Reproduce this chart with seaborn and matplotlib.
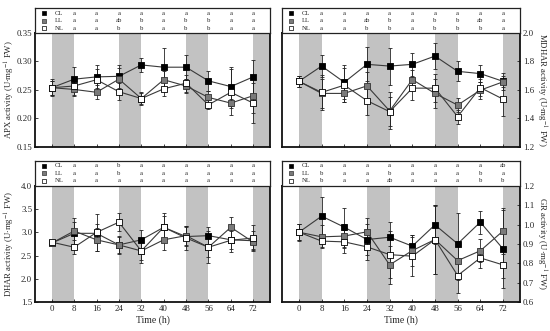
import numpy as np
import pandas as pd
import matplotlib
matplotlib.use("Agg")
import matplotlib.pyplot as plt
import seaborn as sns

sns.set_theme(style="white")
plt.rcParams['font.family'] = ['Liberation Serif', 'DejaVu Serif']
plt.rcParams['mathtext.fontset'] = 'stix'

time = [0, 8, 16, 24, 32, 40, 48, 56, 64, 72]
treatments = ["CL", "LL", "NL"]

# APX
apx_cl = [0.254, 0.269, 0.273, 0.274, 0.294, 0.290, 0.290, 0.266, 0.256, 0.273]
apx_ll = [0.254, 0.251, 0.246, 0.269, 0.235, 0.268, 0.257, 0.237, 0.227, 0.240]
apx_nl = [0.254, 0.257, 0.268, 0.247, 0.235, 0.252, 0.262, 0.224, 0.246, 0.227]
apx_cl_err = [0.015, 0.021, 0.020, 0.020, 0.012, 0.034, 0.021, 0.018, 0.034, 0.030]
apx_ll_err = [0.012, 0.012, 0.012, 0.020, 0.010, 0.015, 0.012, 0.012, 0.008, 0.030]
apx_nl_err = [0.012, 0.015, 0.018, 0.015, 0.012, 0.012, 0.015, 0.008, 0.040, 0.035]

# MDHAR
mdhar_cl = [1.661, 1.768, 1.654, 1.780, 1.768, 1.780, 1.838, 1.731, 1.715, 1.661]
mdhar_ll = [1.661, 1.576, 1.576, 1.629, 1.453, 1.673, 1.576, 1.494, 1.599, 1.657]
mdhar_nl = [1.661, 1.583, 1.634, 1.525, 1.448, 1.613, 1.613, 1.413, 1.617, 1.536]
mdhar_cl_err = [0.04, 0.08, 0.12, 0.12, 0.13, 0.08, 0.09, 0.07, 0.06, 0.04]
mdhar_ll_err = [0.04, 0.10, 0.06, 0.10, 0.13, 0.07, 0.10, 0.05, 0.06, 0.06]
mdhar_nl_err = [0.04, 0.12, 0.12, 0.10, 0.10, 0.08, 0.10, 0.05, 0.06, 0.12]

# DHAR
dhar_cl = [2.77, 2.98, 2.98, 2.73, 2.84, 3.11, 2.91, 2.93, 2.84, 2.82]
dhar_ll = [2.77, 3.03, 2.84, 2.73, 2.60, 2.84, 2.93, 2.68, 3.11, 2.79]
dhar_nl = [2.79, 2.68, 3.00, 3.22, 2.60, 3.11, 2.88, 2.68, 2.83, 2.88]
dhar_cl_err = [0.05, 0.25, 0.20, 0.20, 0.22, 0.25, 0.20, 0.18, 0.20, 0.20]
dhar_ll_err = [0.05, 0.28, 0.25, 0.18, 0.20, 0.22, 0.20, 0.20, 0.22, 0.15]
dhar_nl_err = [0.05, 0.15, 0.40, 0.20, 0.25, 0.30, 0.25, 0.35, 0.25, 0.28]

# GR
gr_cl = [0.961, 1.044, 0.987, 0.923, 0.935, 0.889, 0.999, 0.901, 1.013, 0.875]
gr_ll = [0.961, 0.937, 0.941, 0.963, 0.792, 0.866, 0.923, 0.814, 0.865, 0.967]
gr_nl = [0.961, 0.915, 0.911, 0.885, 0.845, 0.837, 0.923, 0.737, 0.828, 0.792]
gr_cl_err = [0.045, 0.10, 0.10, 0.08, 0.08, 0.06, 0.10, 0.16, 0.06, 0.20]
gr_ll_err = [0.04, 0.06, 0.06, 0.07, 0.10, 0.08, 0.18, 0.10, 0.06, 0.12]
gr_nl_err = [0.04, 0.03, 0.06, 0.07, 0.12, 0.10, 0.18, 0.09, 0.05, 0.07]

letter_times = [8, 16, 24, 32, 40, 48, 56, 64, 72]
apx_letters = [list("aaaaaaaaa"), ["a", "a", "ab", "b", "a", "b", "b", "a", "a"],
               ["a", "a", "b", "b", "a", "b", "b", "a", "a"]]
mdhar_letters = [list("aaaaaaaaa"), ["a", "a", "ab", "b", "a", "b", "b", "ab", "a"],
                 ["a", "a", "b", "b", "a", "b", "b", "b", "a"]]
dhar_letters = [["a", "a", "b", "a", "a", "a", "a", "a", "a"],
                ["a", "a", "b", "a", "a", "a", "a", "a", "a"],
                list("aaaaaaaaa")]
gr_letters = [["a", "a", "a", "a", "a", "a", "a", "a", "ab"],
              ["b", "a", "a", "b", "a", "a", "a", "b", "a"],
              ["b", "a", "a", "ab", "a", "a", "a", "b", "b"]]

panels = [
    dict(name="APX", vals=[apx_cl, apx_ll, apx_nl], errs=[apx_cl_err, apx_ll_err, apx_nl_err],
         letters=apx_letters, ylim=(0.15, 0.35), yticks=[0.15, 0.20, 0.25, 0.30, 0.35], fmt="%.2f",
         side="left", bottom=False),
    dict(name="MDHAR", vals=[mdhar_cl, mdhar_ll, mdhar_nl], errs=[mdhar_cl_err, mdhar_ll_err, mdhar_nl_err],
         letters=mdhar_letters, ylim=(1.2, 2.0), yticks=[1.2, 1.4, 1.6, 1.8, 2.0], fmt="%.1f",
         side="right", bottom=False),
    dict(name="DHAR", vals=[dhar_cl, dhar_ll, dhar_nl], errs=[dhar_cl_err, dhar_ll_err, dhar_nl_err],
         letters=dhar_letters, ylim=(1.5, 4.0), yticks=[1.5, 2.0, 2.5, 3.0, 3.5, 4.0], fmt="%.1f",
         side="left", bottom=True),
    dict(name="GR", vals=[gr_cl, gr_ll, gr_nl], errs=[gr_cl_err, gr_ll_err, gr_nl_err],
         letters=gr_letters, ylim=(0.6, 1.2), yticks=[0.6, 0.7, 0.8, 0.9, 1.0, 1.1, 1.2], fmt="%.1f",
         side="right", bottom=True),
]

positions = [
    (0.0636, 0.5559, 0.4273, 0.3444, 0.0755),
    (0.5127, 0.5559, 0.4327, 0.3444, 0.0755),
    (0.0636, 0.0876, 0.4273, 0.3505, 0.0755),
    (0.5127, 0.0876, 0.4327, 0.3505, 0.0755),
]

face_colors = {"CL": "black", "LL": "#7a7a7a", "NL": "white"}
edge_colors = {"CL": "black", "LL": "#333333", "NL": "black"}
shade = [(0, 8), (24, 32), (48, 56), (72, 80)]
xlim = (-6, 78)

fig = plt.figure(figsize=(5.5, 3.31), dpi=100)

for p, (l, b, w, h, bh) in zip(panels, positions):
    ax = fig.add_axes([l, b, w, h])
    box = fig.add_axes([l, b + h, w, bh])
    for s0, s1 in shade:
        ax.axvspan(s0, s1, color="#c2c2c2", lw=0, zorder=0)
    rows = []
    for trt, v, e in zip(treatments, p["vals"], p["errs"]):
        rows.append(pd.DataFrame({"time": time, "value": v, "err": e, "trt": trt}))
    df = pd.concat(rows, ignore_index=True)
    for i, trt in enumerate(treatments):
        sub = df[df.trt == trt]
        ax.errorbar(sub.time, sub.value, yerr=sub.err, fmt="none", ecolor="#222222",
                    elinewidth=0.6, capsize=1.5, capthick=0.6, zorder=2 + i)
        sns.lineplot(data=sub, x="time", y="value", ax=ax, color="#3a3a3a", lw=0.8,
                     legend=False, zorder=2 + i)
        sns.scatterplot(data=sub, x="time", y="value", ax=ax, marker="s", s=22,
                        color=face_colors[trt], edgecolor=edge_colors[trt], linewidth=0.6,
                        legend=False, zorder=5 + i)
    ax.set_xlim(*xlim)
    ax.set_ylim(*p["ylim"])
    ax.set_yticks(p["yticks"])
    ax.set_yticklabels([p["fmt"] % t for t in p["yticks"]])
    ax.set_xticks(time)
    ax.tick_params(direction="in", length=2, width=0.6, labelsize=6.3, pad=2, colors="#222222")
    ax.tick_params(axis="x", top=False, bottom=True)
    label = p["name"] + r" activity (U$\cdot$mg$^{-1}$ FW)"
    if p["side"] == "right":
        ax.yaxis.tick_right()
        ax.yaxis.set_label_position("right")
        ax.tick_params(axis="y", left=False, right=True)
        ax.set_ylabel(label, fontsize=6.3, rotation=270, va="center", ha="center")
        ax.yaxis.set_label_coords(1.088, 0.5)
    else:
        ax.tick_params(axis="y", left=True, right=False)
        ax.set_ylabel(label, fontsize=6.3, va="center", ha="center")
        ax.yaxis.set_label_coords(-0.108, 0.5)
    if p["bottom"]:
        ax.set_xlabel("Time (h)", fontsize=7, labelpad=2)
    else:
        ax.set_xticklabels([])
        ax.set_xlabel("")
    for sp in ax.spines.values():
        sp.set_linewidth(1.3)
        sp.set_color("#111111")

    # letter box
    box.set_xlim(*xlim)
    box.set_ylim(0, 1)
    box.set_xticks([])
    box.set_yticks([])
    for sp in box.spines.values():
        sp.set_linewidth(0.9)
        sp.set_color("#222222")
    row_y = [0.80, 0.50, 0.20]
    for i, trt in enumerate(treatments):
        box.scatter([-2.8], [row_y[i]], marker="s", s=8, c=face_colors[trt],
                    edgecolors=edge_colors[trt], linewidths=0.5, zorder=3)
        box.text(1.0, row_y[i], trt, fontsize=4.8, va="center", ha="left")
        for t, let in zip(letter_times, p["letters"][i]):
            box.text(t, row_y[i], let, fontsize=4.8, va="center", ha="center")

fig.savefig("out.png", dpi=100)
